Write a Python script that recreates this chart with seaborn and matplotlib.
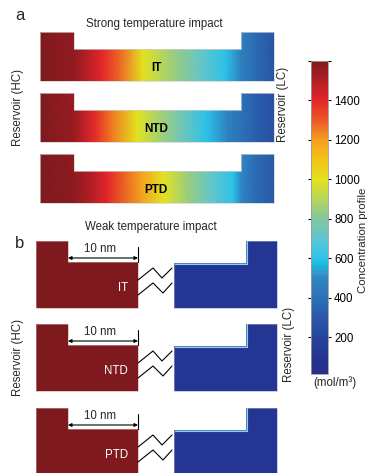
import numpy as np
import matplotlib
matplotlib.use("Agg")
import matplotlib.pyplot as plt
import seaborn as sns
from matplotlib.colors import LinearSegmentedColormap, Normalize
from matplotlib.patches import Polygon
from matplotlib.cm import ScalarMappable

sns.set_theme(style="white")
plt.rcParams['font.family'] = ['Liberation Sans', 'DejaVu Sans']

# data
cases = ["IT", "NTD", "PTD"]
# position along the device, 0 = HC reservoir wall, 1 = LC reservoir wall
pos_it = [0.0, 0.145, 0.21, 0.26, 0.34, 0.44, 0.52, 0.60, 0.69, 0.79, 0.86, 0.92, 1.0]
conc_it = [1600, 1560, 1480, 1400, 1280, 1000, 900, 820, 720, 600, 470, 380, 280]
pos_ntd = [0.0, 0.145, 0.20, 0.24, 0.31, 0.415, 0.50, 0.60, 0.71, 0.80, 0.86, 0.92, 1.0]
conc_ntd = [1600, 1550, 1450, 1380, 1250, 1000, 880, 760, 600, 480, 400, 330, 260]
pos_ptd = [0.0, 0.145, 0.22, 0.286, 0.43, 0.53, 0.63, 0.73, 0.825, 0.86, 0.92, 1.0]
conc_ptd = [1600, 1570, 1500, 1400, 1200, 1000, 850, 720, 600, 500, 380, 300]
weak_hc = [1600, 1600, 1600]
weak_lc = [100, 100, 100]
cbar_ticks = [200, 400, 600, 800, 1000, 1200, 1400, 1600]
cbar_labels = ["200", "400", "600", "800", "1000", "1200", "1400", ""]
vmin, vmax = 15, 1600

# colour scale of the original
stops = [(15, '#2a2d87'), (100, '#253594'), (200, '#26449b'), (300, '#2a58a8'),
         (400, '#2a72b7'), (510, '#3088c4'), (520, '#3b93cd'), (560, '#1cb0dd'),
         (600, '#2ec3ea'), (700, '#5fc6d2'), (800, '#80c79e'), (900, '#b7d55c'),
         (1000, '#e3e21f'), (1100, '#f2c219'), (1200, '#f3a01f'), (1300, '#ec5826'),
         (1400, '#e3252a'), (1500, '#b31f26'), (1600, '#7e1a1e')]
cmap = LinearSegmentedColormap.from_list(
    "conc", [((v - vmin) / (vmax - vmin), c) for v, c in stops], N=512)
norm = Normalize(vmin, vmax)

fig = plt.figure(figsize=(3.7, 4.73), dpi=100)
ax = fig.add_axes([0, 0, 1, 1])
ax.set_xlim(0, 370)
ax.set_ylim(473, 0)
ax.axis('off')

# panel a
xa0, xa1, ra_l, ra_r = 40, 274, 74, 241
tops_a = [32, 93, 154]
profiles = [(pos_it, conc_it), (pos_ntd, conc_ntd), (pos_ptd, conc_ptd)]
for top, (p, c), name in zip(tops_a, profiles, cases):
    bot = top + 49
    ch = top + 17
    X = xa0 + np.array(p) * (xa1 - xa0)
    XX, YY = np.meshgrid(X, [top, bot])
    CC = np.vstack([c, c])
    mesh = ax.pcolormesh(XX, YY, CC, shading='gouraud', cmap=cmap, norm=norm)
    poly = Polygon([(xa0, top), (ra_l, top), (ra_l, ch), (ra_r, ch), (ra_r, top),
                    (xa1, top), (xa1, bot), (xa0, bot)], closed=True,
                   fc='none', ec='#d0d0d0', lw=0.5)
    ax.add_patch(poly)
    mesh.set_clip_path(poly)
    ax.text(156, top + 36, name, ha='center', va='center', fontsize=8.5,
            fontweight='bold', color='black')

ax.text(20, 16, "a", fontsize=12, ha='center', va='center')
ax.text(154, 24, "Strong temperature impact", fontsize=8.3, ha='center', va='center')
ax.text(18, 107, "Reservoir (HC)", rotation=90, fontsize=8.3, ha='center', va='center')
ax.text(283, 104, "Reservoir (LC)", rotation=90, fontsize=8.3, ha='center', va='center')

# panel b
tops_b = [241, 324, 408]
for top, hc, lc, name in zip(tops_b, weak_hc, weak_lc, cases):
    bot = top + 67
    left = Polygon([(36, top), (68, top), (68, top + 21), (138, top + 21),
                    (138, bot), (36, bot)], closed=True, fc='none', ec='#c9a0a0', lw=0.4)
    right = Polygon([(174, top + 22), (246, top + 22), (246, top), (277, top),
                     (277, bot), (174, bot)], closed=True, fc='none', ec='#a0a8d0', lw=0.4)
    for poly, val, x0, x1 in [(left, hc, 36, 138), (right, lc, 174, 277)]:
        XX, YY = np.meshgrid([x0, x1], [top, bot])
        m = ax.pcolormesh(XX, YY, np.full((2, 2), val), shading='gouraud',
                          cmap=cmap, norm=norm)
        ax.add_patch(poly)
        m.set_clip_path(poly)
    # bright edge along the LC wall
    ax.plot([174.5, 246.5, 246.5], [top + 22.5, top + 22.5, top], color='#7fd8ee', lw=0.8)
    # break marks
    ax.plot([138, 153, 162, 172], [top + 39, top + 27, top + 37, top + 27], color='black', lw=0.8)
    ax.plot([138, 153, 163, 172], [top + 54, top + 42, top + 52, top + 42], color='black', lw=0.8)
    # 10 nm scale
    ax.annotate("", xy=(68, top + 17), xytext=(138, top + 17),
                arrowprops=dict(arrowstyle='<|-|>', color='black', lw=0.8,
                                mutation_scale=5, shrinkA=0, shrinkB=0))
    ax.plot([138, 138], [top + 6, top + 21], color='black', lw=0.8)
    ax.text(100, top + 8, "10 nm", fontsize=8.3, ha='center', va='center')
    ax.text(128, top + 47, name, fontsize=8.3, ha='right', va='center', color='white')

ax.text(20, 243, "b", fontsize=12, ha='center', va='center')
ax.text(151, 227, "Weak temperature impact", fontsize=8.3, ha='center', va='center')
ax.text(18, 357, "Reservoir (HC)", rotation=90, fontsize=8.3, ha='center', va='center')
ax.text(289, 344, "Reservoir (LC)", rotation=90, fontsize=8.3, ha='center', va='center')

# colour bar
cax = fig.add_axes([311 / 370, 1 - 374 / 473, 17 / 370, 313 / 473])
cb = fig.colorbar(ScalarMappable(norm=norm, cmap=cmap), cax=cax, ticks=cbar_ticks)
cb.set_ticklabels(cbar_labels)
cb.outline.set_edgecolor('#9a9a9a')
cb.outline.set_linewidth(0.6)
cax.tick_params(axis='y', direction='inout', length=5, width=0.8, labelsize=8.3,
                pad=2, left=True, right=True, labelleft=False, labelright=True,
                colors='black')
ax.text(363, 240, "Concentration profile", rotation=90, fontsize=8.2, ha='center', va='center')
ax.text(335, 383, "(mol/m³)", fontsize=8.3, ha='center', va='center')

fig.savefig("out.png", dpi=100)
